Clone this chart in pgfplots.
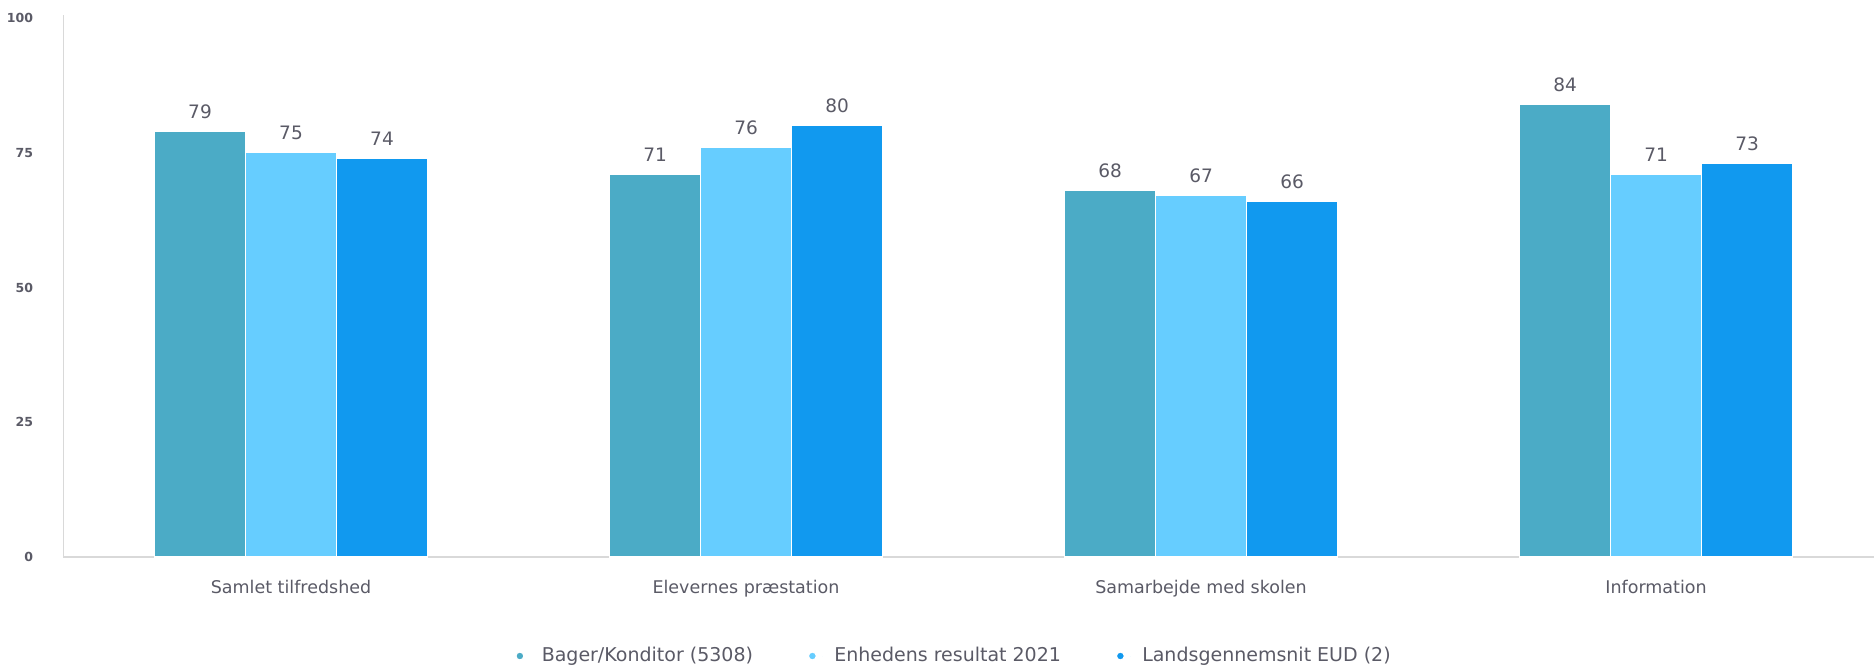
\documentclass[border=0pt]{standalone}
\usepackage{pgfplots}
\pgfplotsset{compat=1.18}
\usepackage{fontspec}
\setmainfont{DejaVu Sans}
\definecolor{cA}{HTML}{4BABC6}
\definecolor{cB}{HTML}{66CDFF}
\definecolor{cC}{HTML}{1199EF}
\definecolor{axgray}{HTML}{D9D9D9}
\definecolor{txt}{HTML}{5A5A66}
\begin{document}
\begin{tikzpicture}
\begin{axis}[
  scale only axis,
  width=724.2pt, height=216.9pt,
  xmin=-0.5, xmax=3.479,
  ymin=0, ymax=100.6,
  ytick={0,25,50,75,100},
  xtick={0,1,2,3},
  xticklabels={Samlet tilfredshed, Elevernes præstation, Samarbejde med skolen, Information},
  major tick length=0pt,
  axis lines=left,
  axis line style={axgray, line width=0.6pt, -},
  /pgf/number format/assume math mode=true,
  yticklabel style={font=\fontsize{5}{6}\selectfont\bfseries, text=txt, anchor=east, inner sep=0pt, xshift=-12pt},
  xticklabel style={font=\fontsize{7}{8}\selectfont, text=txt, anchor=base, inner sep=0pt, yshift=-14.4pt},
  ybar, bar width=0.2,
  nodes near coords,
  every node near coord/.append style={font=\fontsize{7.4}{8}\selectfont, text=txt, anchor=base, inner sep=0pt, yshift=5.2pt},
  legend columns=3,
  legend style={draw=none, fill=none, font=\fontsize{7.6}{9}\selectfont, text=txt,
    at={(axis description cs:0.4924,0)}, anchor=center, yshift=-39.6pt,
    /tikz/every odd column/.append style={column sep=2.5pt},
    /tikz/every even column/.append style={column sep=19.5pt}},
  legend image code/.code={\path (-2pt,0) -- (4pt,0); \fill[#1] (0pt,0pt) circle (1.6pt);},
  legend cell align=left,
]
\addplot[fill=cA, draw=white, line width=0.5pt, bar shift=-0.2] coordinates {(0,79) (1,71) (2,68) (3,84)};
\addplot[fill=cB, draw=white, line width=0.5pt, bar shift=0] coordinates {(0,75) (1,76) (2,67) (3,71)};
\addplot[fill=cC, draw=white, line width=0.5pt, bar shift=0.2] coordinates {(0,74) (1,80) (2,66) (3,73)};
\legend{Bager/Konditor (5308), Enhedens resultat 2021, Landsgennemsnit EUD (2)}
\end{axis}
\pgfresetboundingbox
\path (-25.4pt,-42.8pt) rectangle (724.2pt,222.8pt);
\end{tikzpicture}
\end{document}
